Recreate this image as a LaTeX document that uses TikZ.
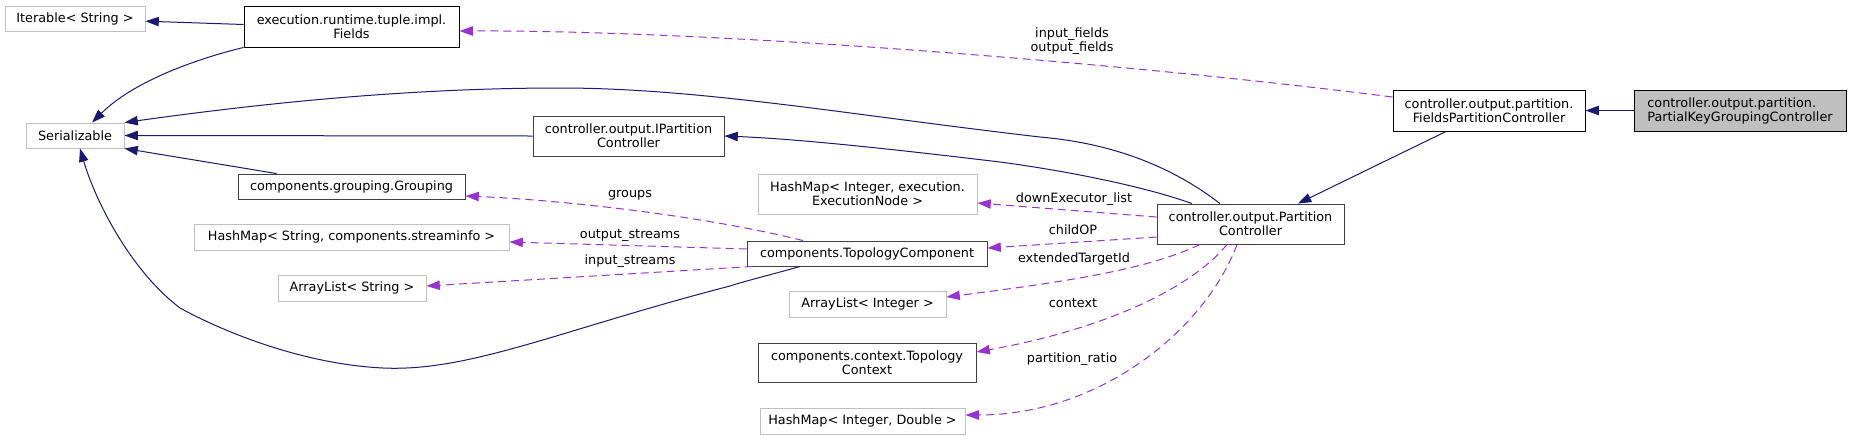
\documentclass[tikz,border=0pt]{standalone}
\usepackage{fontspec}
\setmainfont{DejaVu Sans}
\usetikzlibrary{arrows.meta}
\definecolor{inhc}{HTML}{191970}
\definecolor{usec}{HTML}{9A32CD}
\definecolor{lightb}{HTML}{BFBFBF}
\definecolor{darkb}{HTML}{404040}
\begin{document}
\begin{tikzpicture}[x=0.75pt,y=-0.75pt,
  every node/.style={font=\fontsize{9.6}{10.5}\selectfont, inner sep=0pt, align=center},
  cls/.style={draw=black, rectangle, line width=0.7pt, fill=white},
  clsd/.style={draw=darkb, rectangle, line width=0.7pt, fill=white},
  ext/.style={draw=lightb, rectangle, line width=0.7pt, fill=white},
  inh/.style={draw=inhc, line width=0.75pt, -{Triangle[length=10pt,width=7pt]}},
  use/.style={draw=usec, line width=0.75pt, dash pattern=on 6pt off 3.75pt, -{Triangle[length=10pt,width=7pt]}},
  lbl/.style={fill=none}]
\fill[white] (0,0) rectangle (1851,440);
\useasboundingbox (0,0) rectangle (1851,440);

% nodes
\node[ext, minimum width=105pt, minimum height=18.75pt] (iter) at (75,18.5) {Iterable< String >};
\node[cls, minimum width=161.25pt, minimum height=30.75pt] (fields) at (351.5,26.5) {execution.runtime.tuple.impl.\\Fields};
\node[ext, minimum width=73.5pt, minimum height=18.75pt] (ser) at (75,135.5) {Serializable};
\node[clsd, minimum width=143.25pt, minimum height=30pt] (ipc) at (628.5,136) {controller.output.IPartition\\Controller};
\node[clsd, minimum width=170.25pt, minimum height=18.75pt] (grp) at (351.5,186.5) {components.grouping.Grouping};
\node[ext, minimum width=236.25pt, minimum height=19.5pt] (hmS) at (351.5,237) {HashMap< String, components.streaminfo >};
\node[ext, minimum width=111pt, minimum height=19.5pt] (alS) at (352,288) {ArrayList< String >};
\node[ext, minimum width=164.25pt, minimum height=30pt] (hmE) at (867.5,194) {HashMap< Integer, execution.\\ExecutionNode >};
\node[clsd, minimum width=180pt, minimum height=18.75pt] (tc) at (867,253.5) {components.TopologyComponent};
\node[ext, minimum width=117.75pt, minimum height=19.5pt] (alI) at (867.5,304) {ArrayList< Integer >};
\node[clsd, minimum width=163.5pt, minimum height=29.25pt] (tctx) at (867,362.5) {components.context.Topology\\Context};
\node[ext, minimum width=153.75pt, minimum height=19.5pt] (hmD) at (862.5,421) {HashMap< Integer, Double >};
\node[clsd, minimum width=140.25pt, minimum height=30pt] (pc) at (1250.5,224) {controller.output.Partition\\Controller};
\node[cls, minimum width=144pt, minimum height=30.75pt] (fpc) at (1489,110.5) {controller.output.partition.\\FieldsPartitionController};
\node[cls, fill=lightb, align=left, minimum width=159pt, minimum height=30.75pt] (pkg) at (1740,110.5) {controller.output.partition.\\PartialKeyGroupingController};

% inheritance edges
\draw[inh] ([yshift=1.5pt]fields.west) -- ([yshift=-2pt]iter.east);
\draw[inh] (fields.south west) .. controls (200,58) and (135,80) .. ([xshift=12.75pt]ser.north);
\draw[inh] ([xshift=-22.9pt]pc.north) .. controls (1170,165) and (1110,143) .. (1040,137) .. controls (850,115) and (700,88) .. (560,88) .. controls (400,88) and (250,105) .. (ser.north east);
\draw[inh] (ipc.west) -- (ser.east);
\draw[inh] ([xshift=-43.9pt]pc.north) .. controls (1140,185) and (1060,170) .. (1000,162) .. controls (900,150) and (800,139) .. (ipc.east);
\draw[inh] ([xshift=29.25pt]grp.north west) -- (ser.south east);
\draw[inh] ([xshift=-50.25pt]tc.south) .. controls (770,275) and (745,281) .. (730,286) .. controls (560,330) and (470,372) .. (383,368) .. controls (300,364) and (220,330) .. (180,308) .. controls (130,270) and (95,200) .. ([xshift=3.75pt]ser.south);
\draw[inh] ([xshift=-32.25pt]fpc.south) -- ([xshift=35.6pt]pc.north);
\draw[inh] (pkg.west) -- (fpc.east);

% usage edges
\draw[use] ([yshift=10.1pt]fpc.west) .. controls (1100,60) and (700,30) .. ([yshift=-3.4pt]fields.east);
\node[lbl] (lf) at (1072,41.5) {input\_fields\\output\_fields};
\draw[use] ([yshift=5.25pt]pc.west) -- ([yshift=-6.75pt]hmE.east);
\node[lbl] (ldown) at (1074,199) {downExecutor\_list};
\draw[use] ([yshift=-9.75pt]pc.west) -- ([yshift=4.1pt]tc.east);
\node[lbl] (lchild) at (1073,230) {childOP};
\draw[use] ([xshift=-37.9pt]pc.south) .. controls (1150,268) and (1080,280) .. ([yshift=5.25pt]alI.east);
\node[lbl] (lext) at (1074,259) {extendedTargetId};
\draw[use] ([xshift=-17.6pt]pc.south) .. controls (1190,290) and (1100,330) .. ([yshift=7.9pt]tctx.east);
\node[lbl] (lctx) at (1073,303) {context};
\draw[use] ([xshift=-10.1pt]pc.south) .. controls (1205,330) and (1100,415) .. ([yshift=4.5pt]hmD.east);
\node[lbl] (lpr) at (1072,359) {partition\_ratio};
\draw[use] ([xshift=-48pt]tc.north) .. controls (700,215) and (560,200) .. ([yshift=-7.1pt]grp.east);
\node[lbl] (lgrp) at (630,195) {groups};
\draw[use] ([yshift=3.4pt]tc.west) -- ([yshift=-3.75pt]hmS.east);
\node[lbl] (lout) at (630,236) {output\_streams};
\draw[use] ([xshift=4.5pt]tc.south west) -- ([yshift=1.5pt]alS.east);
\node[lbl] (lin) at (630,261) {input\_streams};
\end{tikzpicture}
\end{document}
